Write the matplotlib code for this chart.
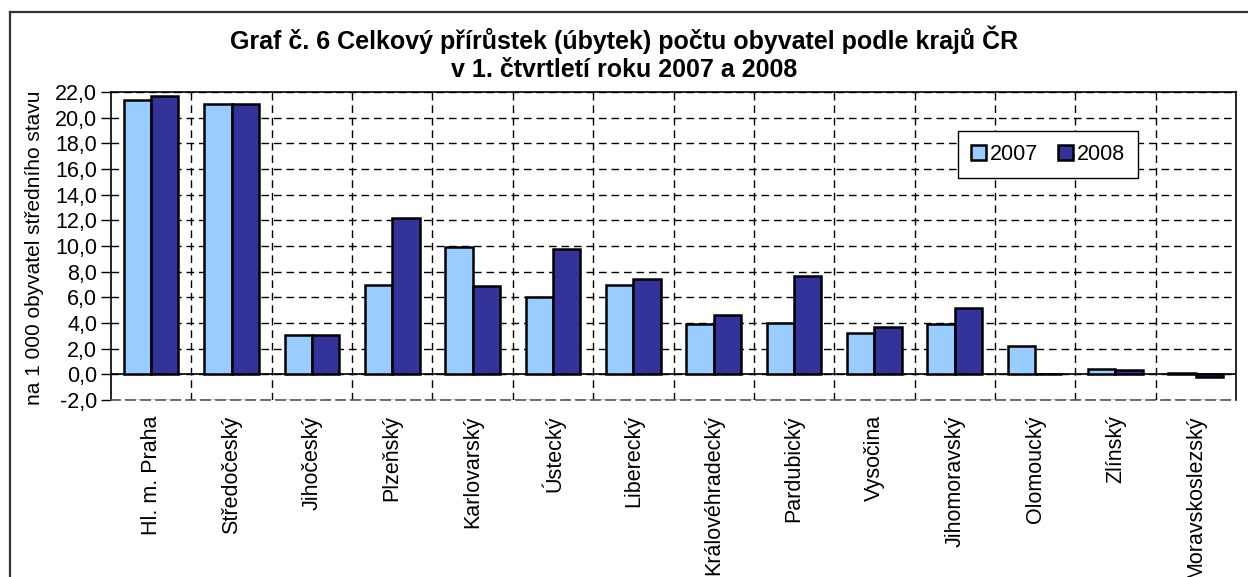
"""
Graf č. 6: celkový přírůstek (úbytek) počtu obyvatel podle krajů ČR,
1. čtvrtletí 2007 a 2008 (na 1 000 obyvatel středního stavu).
"""

import numpy as np
import matplotlib.pyplot as plt
from matplotlib.lines import Line2D
from matplotlib.ticker import FuncFormatter, MultipleLocator

plt.rcParams['font.family'] = ['Liberation Sans', 'DejaVu Sans']

# Data
regions = ["Hl. m. Praha", "Středočeský", "Jihočeský", "Plzeňský", "Karlovarský",
           "Ústecký", "Liberecký", "Královéhradecký", "Pardubický", "Vysočina",
           "Jihomoravský", "Olomoucký", "Zlínský", "Moravskoslezský"]
val_2007 = [21.4, 21.1, 3.1, 7.0, 9.9, 6.0, 7.0, 3.9, 4.0, 3.2, 3.9, 2.2, 0.4, 0.1]
val_2008 = [21.7, 21.1, 3.1, 12.2, 6.9, 9.8, 7.4, 4.6, 7.7, 3.7, 5.2, 0.05, 0.3, -0.2]
series_names = ["2007", "2008"]
colors = ["#99CCFF", "#333399"]

title = ("Graf č. 6 Celkový přírůstek (úbytek) počtu obyvatel podle krajů ČR\n"
         "v 1. čtvrtletí roku 2007 a 2008")
ylabel = "na 1 000 obyvatel středního stavu"

W, H = 1248, 577


def main():
    fig = plt.figure(figsize=(W / 100, H / 100), dpi=100)
    ax = fig.add_axes([111 / W, 1 - 400 / H, (1236 - 111) / W, (400 - 92) / H])

    x = np.arange(len(regions))
    bw = 0.34
    for k, (vals, name, c) in enumerate(zip([val_2007, val_2008], series_names, colors)):
        ax.bar(x + (k - 0.5) * bw, vals, width=bw, color=c, edgecolor="black",
               linewidth=1.8, label=name, zorder=3)

    ax.set_xlim(-0.5, len(regions) - 0.5)
    ax.set_ylim(-2, 22)
    ax.yaxis.set_major_locator(MultipleLocator(2))
    ax.yaxis.set_major_formatter(FuncFormatter(lambda v, p: f"{v:.1f}".replace(".", ",")))
    ax.tick_params(axis="y", labelsize=15.5, length=7, width=1, pad=3)

    ax.set_xticks(x)
    ax.set_xticklabels(regions, rotation=90, fontsize=15.5, va="top")
    ax.tick_params(axis="x", length=0, pad=11)
    ax.set_xticks(x[:-1] + 0.5, minor=True)
    ax.tick_params(axis="x", which="minor", length=0)

    dash = (0, (5.5, 3.5))
    ax.grid(axis="y", which="major", color="black", linestyle=dash, linewidth=1, zorder=1)
    ax.grid(axis="x", which="minor", color="black", linestyle=dash, linewidth=1, zorder=1)
    ax.axhline(0, color="black", linewidth=1.2, zorder=2)

    for s in ["left", "top", "right"]:
        ax.spines[s].set_color("black")
        ax.spines[s].set_linewidth(1.2)
    ax.spines["bottom"].set_color("#555555")
    ax.spines["bottom"].set_linestyle(dash)
    ax.spines["bottom"].set_linewidth(1.2)

    fig.text(35 / W, 1 - 248 / H, ylabel, rotation=90, ha="center", va="center", fontsize=15)
    fig.text(0.5, 1 - 54 / H, title, ha="center", va="center", fontsize=18,
             fontweight="bold", linespacing=1.2)

    leg = ax.legend(loc="upper left", bbox_to_anchor=(958 / W, 1 - 131 / H),
                    bbox_transform=fig.transFigure, ncol=2, fontsize=15.5,
                    frameon=True, fancybox=False, framealpha=1, handlelength=0.7,
                    handleheight=0.7, handletextpad=0.2, columnspacing=0.9,
                    borderpad=0.6, borderaxespad=0)
    leg.get_frame().set_edgecolor("black")
    leg.get_frame().set_linewidth(1)
    leg.set_zorder(10)

    # outer chart border (top and left edges)
    fig.add_artist(Line2D([10 / W, 1], [1 - 12 / H, 1 - 12 / H], color="#333333",
                          linewidth=1.6, transform=fig.transFigure))
    fig.add_artist(Line2D([10 / W, 10 / W], [0, 1 - 12 / H], color="#333333",
                          linewidth=1.6, transform=fig.transFigure))

    fig.savefig("out.png", dpi=100)


if __name__ == "__main__":
    main()
